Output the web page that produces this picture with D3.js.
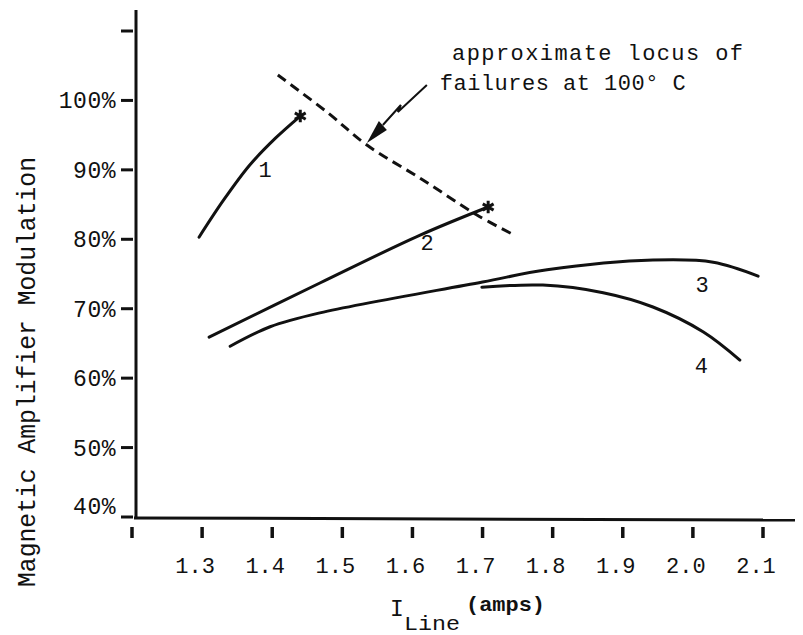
<!DOCTYPE html>
<html>
<head>
<meta charset="utf-8">
<script src="https://cdn.jsdelivr.net/npm/d3@7"></script>
<style>
  html, body { margin: 0; padding: 0; background: #fff; }
  svg { display: block; }
  text { font-family: "Liberation Mono", "DejaVu Sans Mono", monospace; fill: #111; }
</style>
</head>
<body>
<svg id="chart" width="803" height="635"></svg>
<script>
// ---- data ----
const xTicks = [1.2, 1.3, 1.4, 1.5, 1.6, 1.7, 1.8, 1.9, 2.0, 2.1];
const xTickLabels = ["", "1.3", "1.4", "1.5", "1.6", "1.7", "1.8", "1.9", "2.0", "2.1"];
const yTicks = [40, 50, 60, 70, 80, 90, 100, 110];
const yTickLabels = ["40%", "50%", "60%", "70%", "80%", "90%", "100%", ""];

const curve1X = [1.2956, 1.331, 1.368, 1.405, 1.44];
const curve1Y = [80.3, 85.7, 90.7, 94.6, 97.75];
const curve2X = [1.31, 1.468, 1.611, 1.708];
const curve2Y = [65.9, 73.7, 80.6, 84.65];
const curve3X = [1.34, 1.397, 1.468, 1.70, 1.792, 1.943, 2.029, 2.093];
const curve3Y = [64.6, 67.4, 69.4, 73.85, 75.6, 77.0, 76.7, 74.7];
const curve4X = [1.699, 1.786, 1.872, 1.943, 2.015, 2.067];
const curve4Y = [73.1, 73.4, 72.3, 70.25, 66.65, 62.6];
const locusX = [1.408, 1.478, 1.535, 1.615, 1.692, 1.742];
const locusY = [103.66, 98.33, 93.58, 88.54, 83.5, 80.77];

const curveNames = ["1", "2", "3", "4"];
const curveLabelX = [1.39, 1.621, 2.013, 2.012];
const curveLabelY = [89.0, 78.5, 72.4, 60.7];

const failureX = [1.44, 1.708];
const failureY = [97.75, 84.65];

const annotationLines = ["approximate locus of", "failures at 100\u00B0 C"];
const yTitle = "Magnetic Amplifier Modulation";

// ---- scales ----
const x = d3.scaleLinear().domain([1.2, 2.1]).range([132, 763]);
const y = d3.scaleLinear().domain([40, 110]).range([517, 31]);

const svg = d3.select("#chart");
const ink = "#111";

// axes lines
svg.append("line").attr("x1", 136).attr("x2", 136).attr("y1", 10).attr("y2", 518)
  .attr("stroke", ink).attr("stroke-width", 3);
svg.append("line").attr("x1", 134).attr("x2", 795).attr("y1", 518).attr("y2", 520)
  .attr("stroke", ink).attr("stroke-width", 3);

// y ticks
svg.append("g").selectAll("line").data(yTicks).join("line")
  .attr("x1", 121).attr("x2", 133)
  .attr("y1", d => y(d)).attr("y2", d => y(d))
  .attr("stroke", ink).attr("stroke-width", 3);
svg.append("g").selectAll("text").data(yTicks).join("text")
  .attr("x", 116).attr("y", d => y(d) + (d === 40 ? -3 : 8))
  .attr("text-anchor", "end")
  .attr("font-size", 23)
  .attr("letter-spacing", 0.5)
  .text((d, i) => yTickLabels[i]);

// x ticks
svg.append("g").selectAll("line").data(xTicks).join("line")
  .attr("x1", d => x(d)).attr("x2", d => x(d))
  .attr("y1", 527).attr("y2", 538)
  .attr("stroke", ink).attr("stroke-width", 3.5);
svg.append("g").selectAll("text").data(xTicks).join("text")
  .attr("x", d => x(d) - 7).attr("y", 573)
  .attr("text-anchor", "middle")
  .attr("font-size", 22)
  .text((d, i) => xTickLabels[i]);

// axis titles
svg.append("text")
  .attr("transform", "translate(35,372) rotate(-90)")
  .attr("text-anchor", "middle")
  .attr("font-size", 25)
  .attr("textLength", 430).attr("lengthAdjust", "spacingAndGlyphs")
  .text(yTitle);

svg.append("text").attr("x", 390).attr("y", 616).attr("font-size", 23).text("I");
svg.append("text").attr("x", 404).attr("y", 630).attr("font-size", 21)
  .attr("textLength", 56).attr("lengthAdjust", "spacingAndGlyphs").text("Line");
svg.append("text").attr("x", 466).attr("y", 611).attr("font-size", 21).attr("font-weight", "bold")
  .attr("textLength", 79).attr("lengthAdjust", "spacingAndGlyphs").text("(amps)");

// curves
const line = d3.line().x(d => x(d[0])).y(d => y(d[1])).curve(d3.curveCatmullRom.alpha(0.5));
const zip = (a, b) => a.map((v, i) => [v, b[i]]);
const series = [zip(curve1X, curve1Y), zip(curve2X, curve2Y), zip(curve3X, curve3Y), zip(curve4X, curve4Y)];

svg.append("g").selectAll("path").data(series).join("path")
  .attr("d", line)
  .attr("fill", "none").attr("stroke", ink).attr("stroke-width", 3)
  .attr("stroke-linecap", "round");

svg.append("path").attr("d", line(zip(locusX, locusY)))
  .attr("fill", "none").attr("stroke", ink).attr("stroke-width", 3)
  .attr("stroke-dasharray", "10,6");

// failure stars
const starType = d3.symbolAsterisk || d3.symbolCross;
svg.append("g").selectAll("path").data(zip(failureX, failureY)).join("path")
  .attr("transform", d => `translate(${x(d[0])},${y(d[1])})`)
  .attr("d", d3.symbol().type(starType).size(110))
  .attr("fill", starType === d3.symbolCross ? ink : "none")
  .attr("stroke", ink).attr("stroke-width", 3);

// curve labels
svg.append("g").selectAll("text").data(curveNames).join("text")
  .attr("x", (d, i) => x(curveLabelX[i])).attr("y", (d, i) => y(curveLabelY[i]))
  .attr("text-anchor", "middle")
  .attr("font-size", 22)
  .text(d => d);

// annotation
svg.append("text").attr("x", x(1.6565)).attr("y", y(105.8))
  .attr("font-size", 22)
  .attr("textLength", 291).attr("lengthAdjust", "spacing")
  .text(annotationLines[0]);
svg.append("text").attr("x", x(1.639)).attr("y", y(101.5))
  .attr("font-size", 22)
  .attr("textLength", 246).attr("lengthAdjust", "spacing")
  .text(annotationLines[1]);

// lightning arrow pointing at the locus
const tipX = x(1.535), tipY = y(93.58) - 2;
const bolt = [[60, -58], [31, -31], [34, -38], [16, -18]];
const boltPath = d3.path();
boltPath.moveTo(tipX + bolt[0][0], tipY + bolt[0][1]);
for (let i = 1; i < bolt.length; i++) boltPath.lineTo(tipX + bolt[i][0], tipY + bolt[i][1]);
svg.append("path").attr("d", boltPath.toString())
  .attr("fill", "none").attr("stroke", ink).attr("stroke-width", 2);
const head = d3.path();
head.moveTo(tipX, tipY);
head.lineTo(tipX + 20, tipY - 13);
head.lineTo(tipX + 12, tipY - 22);
head.closePath();
svg.append("path").attr("d", head.toString()).attr("fill", ink);
</script>
</body>
</html>
